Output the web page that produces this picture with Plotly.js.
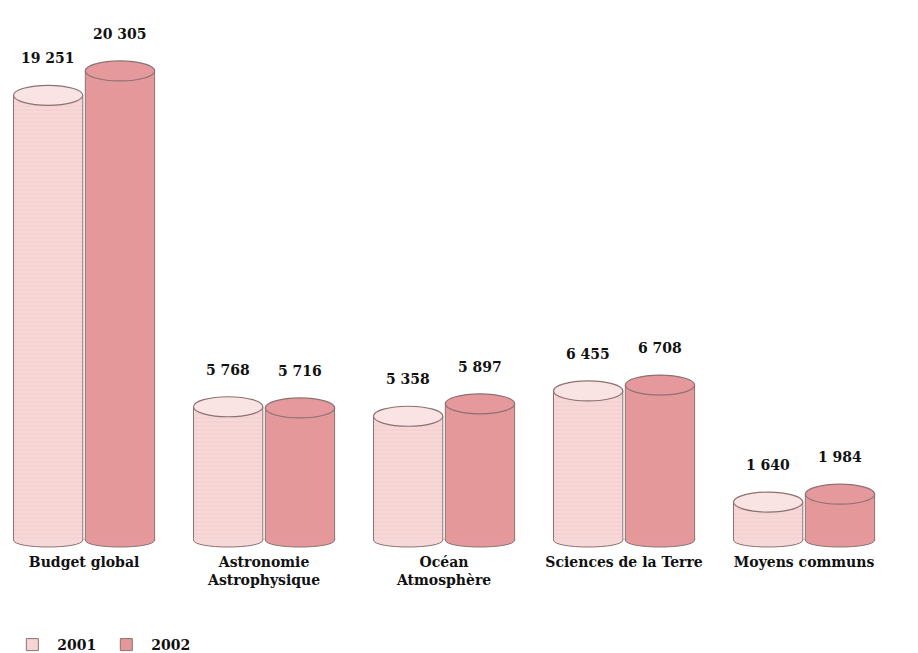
<!DOCTYPE html>
<html>
<head>
<meta charset="utf-8">
<script src="https://cdn.plot.ly/plotly-3.0.1.min.js"></script>
<style>html,body{margin:0;padding:0;background:#fff}#chart{width:918px;height:653px}</style>
</head>
<body>
<div id="chart"></div>
<script>
const categories = ["Budget global", "Astronomie<br>Astrophysique", "Océan<br>Atmosphère", "Sciences de la Terre", "Moyens communs"];
const years = ["2001", "2002"];
const values2001 = [19251, 5768, 5358, 6455, 1640];
const values2002 = [20305, 5716, 5897, 6708, 1984];
const valueLabels2001 = ["19 251", "5 768", "5 358", "6 455", "1 640"];
const valueLabels2002 = ["20 305", "5 716", "5 897", "6 708", "1 984"];

const fill = ["#f7d7d7", "#e6999c"];
const topFill = ["#fae3e3", "#e6999c"];
const patFg = ["#efc6c6", "#d98c90"];
const edge = "#8c7272";
const barW = 0.385;
const offsets = [-0.392, 0.007];
const font = {family: "DejaVu Serif", size: 14, color: "#111"};

const idx = categories.map((c, i) => i);
const series = [values2001, values2002];
const labels = [valueLabels2001, valueLabels2002];

const traces = series.map((vals, s) => ({
  type: "bar",
  name: "<b>" + years[s] + "</b>",
  x: idx,
  y: vals,
  width: barW,
  offset: offsets[s],
  marker: {color: fill[s], line: {color: edge, width: 1},
           pattern: {shape: s === 0 ? "-" : "+", fgcolor: patFg[s], bgcolor: fill[s], size: 4, solidity: 0.15}},
  hoverinfo: "skip"
}));

const shapes = [];
const annotations = [];
const baseDepth = 7;
series.forEach((vals, s) => {
  vals.forEach((v, i) => {
    const x0 = i + offsets[s], x1 = i + offsets[s] + barW;
    const d = -(4 / 3) * baseDepth;
    // curved base (open path: stroke only on the curve, fill hides the flat bottom edge)
    shapes.push({type: "path", layer: "above", xref: "x", yref: "y", ysizemode: "pixel", yanchor: 0,
      path: `M${x0},1.5 L${x0},0 C${x0},${d} ${x1},${d} ${x1},0 L${x1},1.5`,
      fillcolor: fill[s], line: {color: edge, width: 1}});
    shapes.push({type: "circle", layer: "above", xref: "x", yref: "y", ysizemode: "pixel", yanchor: v,
      x0: x0, x1: x1, y0: -10, y1: 10, fillcolor: topFill[s], line: {color: edge, width: 1.2}});
    annotations.push({x: i + offsets[s] + barW / 2, y: v, xref: "x", yref: "y", yshift: 37,
      text: "<b>" + labels[s][i] + "</b>", showarrow: false, font: {family: "DejaVu Serif", size: 14, color: "#111"}});
  });
});

const layout = {
  width: 918, height: 653,
  margin: {l: 0, r: 0, t: 0, b: 105, autoexpand: false},
  paper_bgcolor: "rgba(0,0,0,0)", plot_bgcolor: "rgba(0,0,0,0)",
  barmode: "group",
  showlegend: true,
  legend: {orientation: "h", x: 0.008, y: -0.177, xanchor: "left", yanchor: "middle",
           font: {family: "DejaVu Serif", size: 14, color: "#111"}, itemwidth: 40},
  xaxis: {range: [-0.467, 4.633], tickvals: idx, ticktext: categories.map(c => "<b>" + c.replace("<br>", "</b><br><b>") + "</b>"),
          showgrid: false, zeroline: false, showline: false, ticks: "", tickfont: font, ticklabelstandoff: 4,
          fixedrange: true, automargin: false},
  yaxis: {range: [-346, 23377], visible: false, fixedrange: true},
  shapes: shapes,
  annotations: annotations
};

Plotly.newPlot("chart", traces, layout, {displayModeBar: false, staticPlot: true});
</script>
</body>
</html>
